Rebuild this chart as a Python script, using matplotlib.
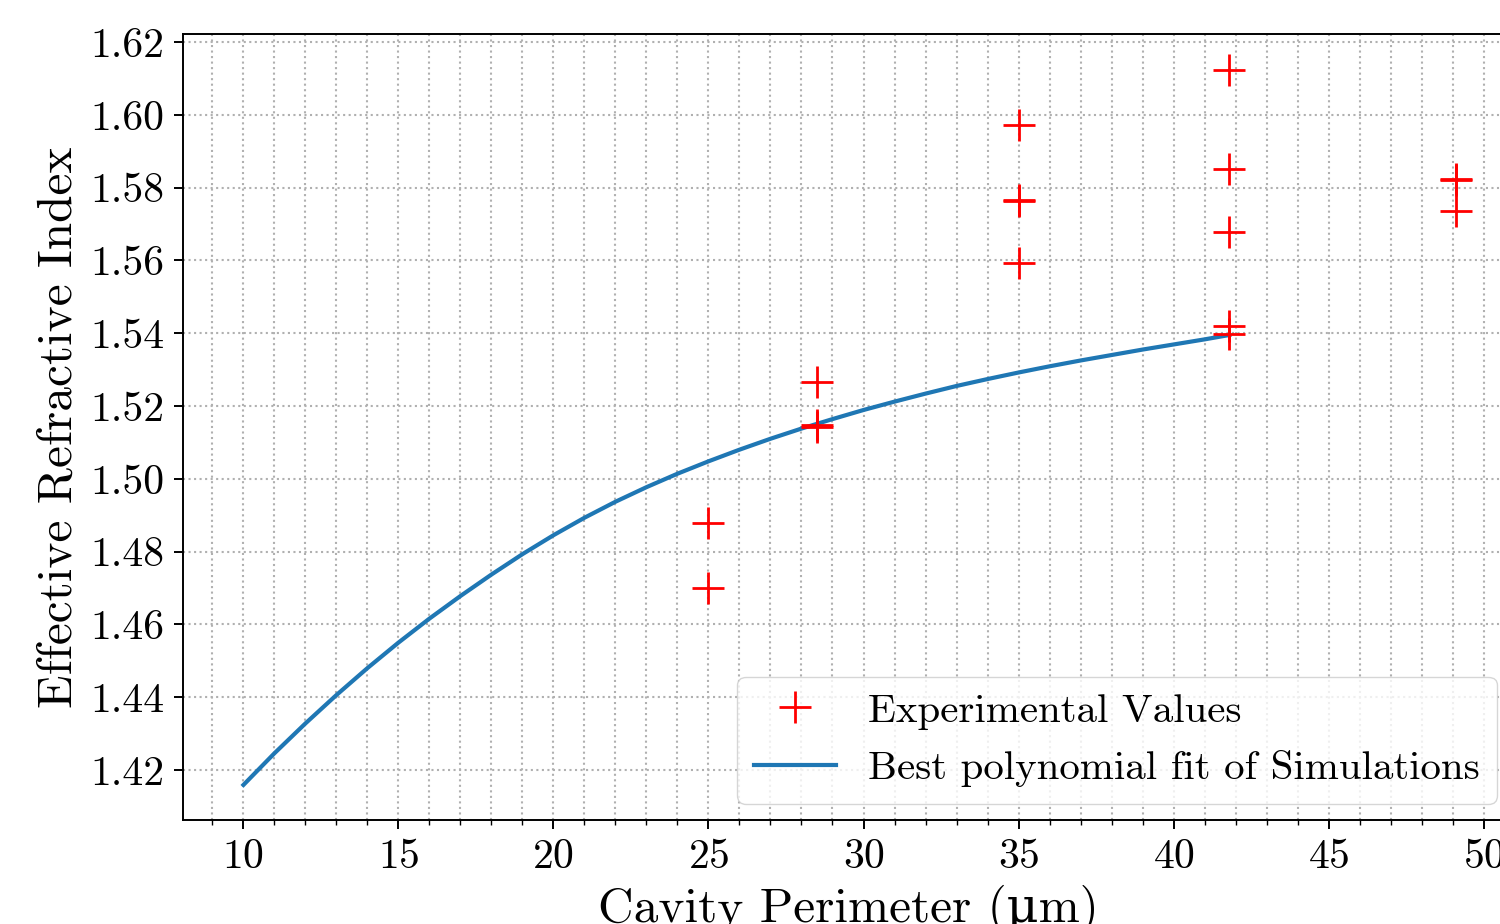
import numpy as np
import matplotlib
matplotlib.use("Agg")
from matplotlib import pyplot as plt
from matplotlib.ticker import MultipleLocator, FormatStrFormatter

plt.rcParams['font.family'] = ['cmr10', 'DejaVu Serif']
plt.rcParams['axes.formatter.use_mathtext'] = True
plt.rcParams['mathtext.fontset'] = 'cm'

# experimental points (perimeter in um, effective index)
exp_x = [25.0, 25.0, 28.5, 28.5, 28.5, 35.0, 35.0, 35.0, 35.0,
         41.8, 41.8, 41.8, 41.8, 41.8, 49.1, 49.1, 49.1]
exp_n = [1.4878, 1.4699, 1.5265, 1.5148, 1.5142, 1.5972, 1.5767, 1.5762, 1.5592,
         1.6123, 1.5851, 1.5679, 1.5421, 1.5398, 1.5825, 1.5821, 1.5737]

# polynomial fit of simulations
fit_x = [10, 11, 12, 13, 14, 15, 16, 17, 18, 19, 20, 21, 22, 23, 24, 25, 26,
         27, 28, 29, 30, 31, 32, 33, 34, 35, 36, 37, 38, 39, 40, 41, 41.8]
fit_n = [1.4159, 1.4246, 1.4328, 1.4406, 1.4480, 1.4550, 1.4616, 1.4678,
         1.4737, 1.4793, 1.4845, 1.4893, 1.4937, 1.4977, 1.5014, 1.5048,
         1.5080, 1.5110, 1.5138, 1.5164, 1.5189, 1.5212, 1.5234, 1.5255,
         1.5274, 1.5292, 1.5309, 1.5325, 1.5340, 1.5355, 1.5369, 1.5383, 1.5395]

fig = plt.figure(figsize=(15, 9.24), dpi=100)
ax = fig.add_axes([183/1500, 104/924, 1330/1500, 786/924])

ax.plot(exp_x, exp_n, linestyle=' ', marker='+', color='red',
        markersize=23, markeredgewidth=2.0, label='Experimental Values', zorder=3)
ax.plot(fit_x, fit_n, color='#1f77b4', lw=3.0,
        label='Best polynomial fit of Simulations', zorder=2)

ax.set_xlim(8.05, 50.95)
ax.set_ylim(1.40626, 1.6222)
ax.xaxis.set_major_locator(MultipleLocator(5))
ax.xaxis.set_minor_locator(MultipleLocator(1))
ax.yaxis.set_major_locator(MultipleLocator(0.02))
ax.yaxis.set_major_formatter(FormatStrFormatter('%.2f'))

ax.grid(which='both', linestyle=':', color='#b0b0b0', lw=1.5)
ax.set_axisbelow(True)

ax.tick_params(which='major', length=6.5, width=1.4, labelsize=30, pad=7)
ax.tick_params(which='minor', length=3.6, width=1.0)
for s in ax.spines.values():
    s.set_linewidth(1.4)

ax.set_xlabel('Cavity Perimeter (\u03bcm)', fontsize=35.5, labelpad=6)
ax.set_ylabel('Effective Refractive Index', fontsize=35.5, labelpad=6)

ax.legend(loc='lower right', fontsize=29.5, borderaxespad=0.4)

fig.savefig('out.png', dpi=100)
